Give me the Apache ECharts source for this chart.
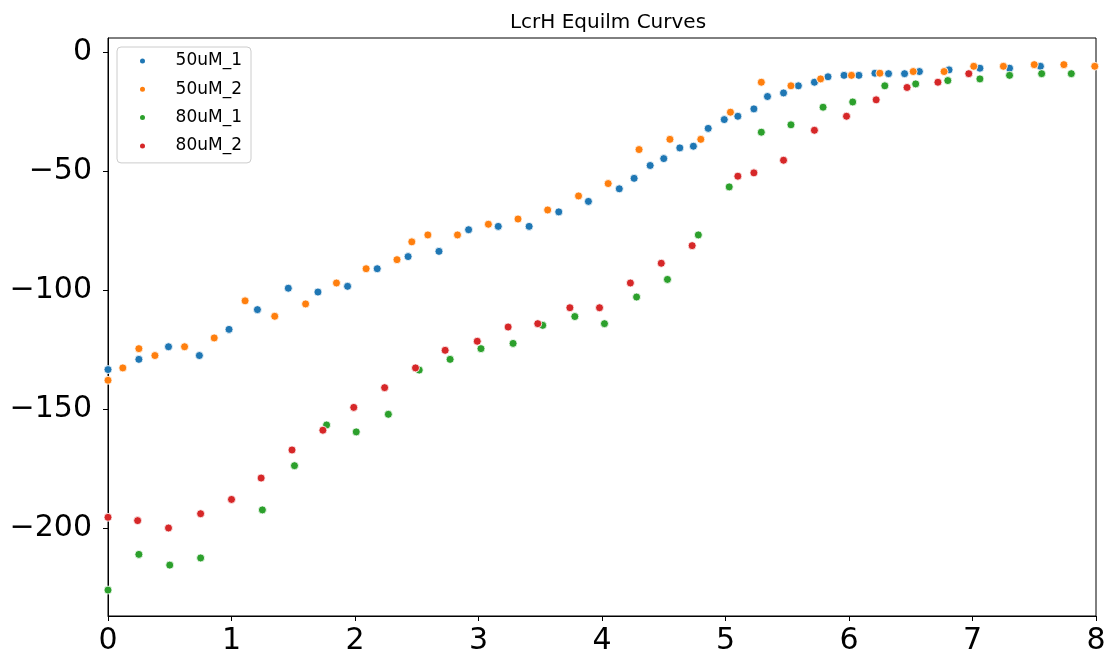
<!DOCTYPE html>
<html>
<head>
<meta charset="utf-8">
<script src="https://cdn.jsdelivr.net/npm/echarts@6/dist/echarts.min.js"></script>
<style>
html,body{margin:0;padding:0;background:#fff;}
#chart{width:1109px;height:658px;}
</style>
</head>
<body>
<div id="chart"></div>
<script>
const chartTitle = "LcrH Equilm Curves";
const seriesNames = ["50uM_1", "50uM_2", "80uM_1", "80uM_2"];
const seriesColors = ["#1f77b4", "#ff7f0e", "#2ca02c", "#d62728"];

const x50uM_1 = [0, 0.25, 0.49, 0.74, 0.98, 1.21, 1.46, 1.70, 1.94, 2.18, 2.43, 2.68, 2.92, 3.16, 3.41, 3.65, 3.89, 4.14, 4.26, 4.39, 4.50, 4.63, 4.74, 4.86, 4.99, 5.10, 5.23, 5.34, 5.47, 5.59, 5.72, 5.83, 5.96, 6.08, 6.21, 6.32, 6.45, 6.57, 6.81, 7.06, 7.30, 7.55];
const y50uM_1 = [-133.4, -129.1, -123.8, -127.5, -116.5, -108.2, -99.2, -100.8, -98.4, -91.0, -85.9, -83.7, -74.6, -73.2, -73.2, -67.1, -62.7, -57.4, -53.0, -47.6, -44.7, -40.2, -39.5, -32.0, -28.3, -26.9, -23.8, -18.6, -17.1, -14.1, -12.6, -10.3, -9.7, -9.7, -8.8, -9.0, -9.0, -8.1, -7.4, -6.7, -6.7, -5.9];

const x50uM_2 = [0, 0.12, 0.25, 0.38, 0.62, 0.86, 1.11, 1.35, 1.60, 1.85, 2.09, 2.34, 2.46, 2.59, 2.83, 3.08, 3.32, 3.56, 3.81, 4.05, 4.30, 4.55, 4.80, 5.04, 5.29, 5.53, 5.77, 6.02, 6.25, 6.52, 6.77, 7.01, 7.25, 7.50, 7.74, 7.99];
const y50uM_2 = [-137.9, -132.7, -124.6, -127.5, -123.8, -120.1, -104.5, -111.0, -105.8, -97.0, -91.0, -87.2, -79.7, -76.8, -76.8, -72.3, -70.1, -66.3, -60.4, -55.2, -40.9, -36.6, -36.6, -25.2, -12.6, -14.1, -11.2, -9.7, -8.8, -8.1, -8.1, -5.9, -5.9, -5.2, -5.2, -5.9];

const x80uM_1 = [0, 0.25, 0.50, 0.75, 1.25, 1.51, 1.77, 2.01, 2.27, 2.52, 2.77, 3.02, 3.28, 3.52, 3.78, 4.02, 4.28, 4.53, 4.78, 5.03, 5.29, 5.53, 5.79, 6.03, 6.29, 6.54, 6.80, 7.06, 7.30, 7.56, 7.80];
const y80uM_1 = [-226.1, -211.1, -215.6, -212.6, -192.4, -173.8, -156.7, -159.6, -152.2, -133.6, -129.1, -124.6, -122.4, -114.8, -111.1, -114.1, -102.9, -95.5, -76.8, -56.6, -33.6, -30.5, -23.1, -20.9, -14.1, -13.3, -11.9, -11.2, -9.7, -9.0, -9.0];

const x80uM_2 = [0, 0.24, 0.49, 0.75, 1.00, 1.24, 1.49, 1.74, 1.99, 2.24, 2.49, 2.73, 2.99, 3.24, 3.48, 3.74, 3.98, 4.23, 4.48, 4.73, 5.10, 5.23, 5.47, 5.72, 5.98, 6.22, 6.47, 6.72, 6.97];
const y80uM_2 = [-195.5, -196.9, -200.0, -194.0, -188.0, -179.0, -167.2, -158.9, -149.3, -141.0, -132.7, -125.3, -121.5, -115.5, -114.1, -107.4, -107.4, -97.0, -88.7, -81.3, -52.1, -50.7, -45.4, -32.8, -26.9, -20.0, -14.8, -12.6, -9.0];

const xTicks = [0, 1, 2, 3, 4, 5, 6, 7, 8];
const yTicks = [0, -50, -100, -150, -200];

const xs = [x50uM_1, x50uM_2, x80uM_1, x80uM_2];
const ys = [y50uM_1, y50uM_2, y80uM_1, y80uM_2];

const FONT = "DejaVu Sans";
const fmt = v => String(v).replace('-', '\u2212');

const chart = echarts.init(document.getElementById('chart'), null, {renderer: 'canvas'});
chart.setOption({
  animation: false,
  backgroundColor: '#ffffff',
  title: {
    text: chartTitle,
    left: 603, top: 8, textAlign: 'center',
    textStyle: {fontFamily: FONT, fontSize: 20, fontWeight: 'normal', color: '#000'}
  },
  grid: {left: 108, right: 13, top: 38, bottom: 42, show: true, borderColor: '#000', borderWidth: 1, backgroundColor: 'transparent'},
  legend: {
    orient: 'vertical', left: 117, top: 47,
    icon: 'circle', itemWidth: 7, itemHeight: 7, itemGap: 8.3,
    padding: [4, 9, 7, 21],
    backgroundColor: 'rgba(255,255,255,0.8)', borderColor: '#cccccc', borderWidth: 1, borderRadius: 4,
    formatter: name => '{r|' + name + '}',
    textStyle: {
      fontFamily: FONT, fontSize: 17, color: '#000', lineHeight: 20,
      rich: {r: {fontFamily: FONT, fontSize: 17, color: '#000', lineHeight: 20, width: 91, align: 'right'}}
    },
    data: seriesNames
  },
  xAxis: {
    type: 'value', min: 0, max: 8, interval: 1,
    splitLine: {show: false},
    axisLine: {show: true, onZero: false, lineStyle: {color: '#000', width: 1}},
    axisTick: {show: true, length: 5, lineStyle: {color: '#000'}, customValues: xTicks},
    axisLabel: {fontFamily: FONT, fontSize: 30, color: '#000', margin: 10, customValues: xTicks, formatter: fmt}
  },
  yAxis: {
    type: 'value', min: -237, max: 6,
    splitLine: {show: false},
    axisLine: {show: true, onZero: false, lineStyle: {color: '#000', width: 1}},
    axisTick: {show: true, length: 5, lineStyle: {color: '#000'}, customValues: yTicks},
    axisLabel: {fontFamily: FONT, fontSize: 30, color: '#000', margin: 16, customValues: yTicks, formatter: fmt}
  },
  series: seriesNames.map((name, i) => ({
    name: name,
    type: 'scatter',
    symbol: 'circle',
    symbolSize: 8,
    itemStyle: {color: seriesColors[i], borderColor: '#ffffff', borderWidth: 0.8, opacity: 1},
    data: xs[i].map((x, j) => [x, ys[i][j]])
  }))
});
</script>
</body>
</html>
